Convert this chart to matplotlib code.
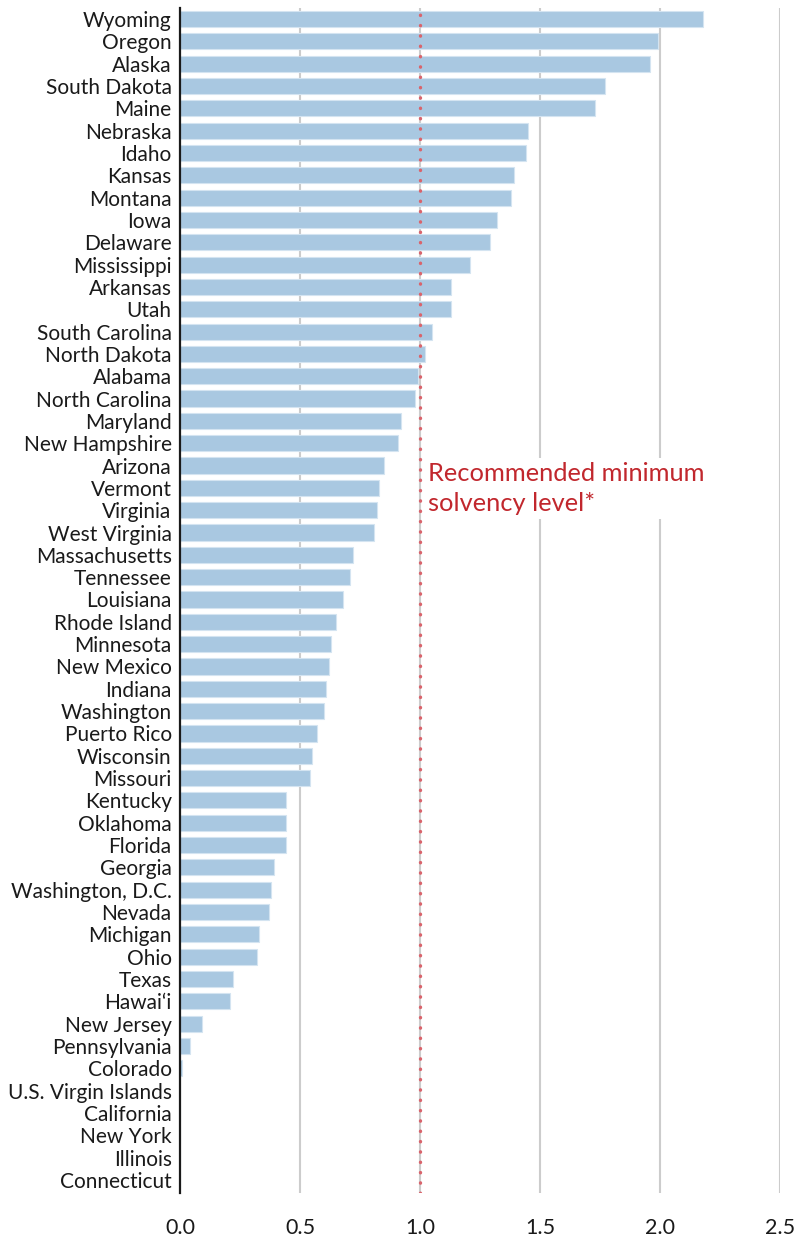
import matplotlib.pyplot as plt
import numpy as np

states = ["Wyoming", "Oregon", "Alaska", "South Dakota", "Maine", "Nebraska", "Idaho",
          "Kansas", "Montana", "Iowa", "Delaware", "Mississippi", "Arkansas", "Utah",
          "South Carolina", "North Dakota", "Alabama", "North Carolina", "Maryland",
          "New Hampshire", "Arizona", "Vermont", "Virginia", "West Virginia",
          "Massachusetts", "Tennessee", "Louisiana", "Rhode Island", "Minnesota",
          "New Mexico", "Indiana", "Washington", "Puerto Rico", "Wisconsin", "Missouri",
          "Kentucky", "Oklahoma", "Florida", "Georgia", "Washington, D.C.", "Nevada",
          "Michigan", "Ohio", "Texas", "Hawai\u2018i", "New Jersey", "Pennsylvania",
          "Colorado", "U.S. Virgin Islands", "California", "New York", "Illinois",
          "Connecticut"]
solvency = [2.18, 1.99, 1.96, 1.77, 1.73, 1.45, 1.44,
            1.39, 1.38, 1.32, 1.29, 1.21, 1.13, 1.13,
            1.05, 1.02, 0.99, 0.98, 0.92,
            0.91, 0.85, 0.83, 0.82, 0.81,
            0.72, 0.71, 0.68, 0.65, 0.63,
            0.62, 0.61, 0.60, 0.57, 0.55, 0.54,
            0.44, 0.44, 0.44, 0.39, 0.38, 0.37,
            0.33, 0.32, 0.22, 0.21, 0.09, 0.04,
            0.01, 0.0, 0.0, 0.0, 0.0,
            0.0]
xticks = [0.0, 0.5, 1.0, 1.5, 2.0, 2.5]
threshold = 1.0
note = "Recommended minimum\nsolvency level*"

plt.rcParams['font.family'] = ['Lato', 'DejaVu Sans']

fig = plt.figure(figsize=(7.96, 12.39), dpi=100)
ax = fig.add_axes([180 / 796, 1 - 1193 / 1239, 600 / 796, 1185 / 1239])

y = np.arange(len(states))
ax.barh(y, solvency, height=0.72, color='#a9c8e1', edgecolor='#d4e4f1', linewidth=0.8, zorder=2)

ax.set_xlim(0, 2.5)
ax.set_ylim(len(states) - 1 + 0.58, -0.49)
ax.set_yticks(y)
ax.set_yticklabels(states, fontsize=15, color='#1a1a1a')
ax.set_xticks(xticks)
ax.set_xticklabels([f"{t:.1f}" for t in xticks], fontsize=15.5, color='#1a1a1a')
ax.tick_params(axis='both', length=0)
ax.tick_params(axis='y', pad=6)
ax.tick_params(axis='x', pad=18)

for t in xticks[1:]:
    ax.axvline(t, color='#cccccc', lw=1.5, zorder=1)

# dotted threshold line
ax.axvline(threshold, color='#d9646c', lw=2.4, ls=(0, (0.1, 3.0)),
           dash_capstyle='round', zorder=3)
ax.text(threshold + 0.035, 19.85, note, color='#c1272d', fontsize=18.3,
        va='top', ha='left', linespacing=1.35, zorder=4,
        bbox=dict(facecolor='white', edgecolor='none', pad=3))

for s in ['top', 'right', 'bottom']:
    ax.spines[s].set_visible(False)
ax.spines['left'].set_color('#1a1a1a')
ax.spines['left'].set_linewidth(1.6)
ax.spines['left'].set_zorder(5)

fig.savefig('out.png', dpi=100)
